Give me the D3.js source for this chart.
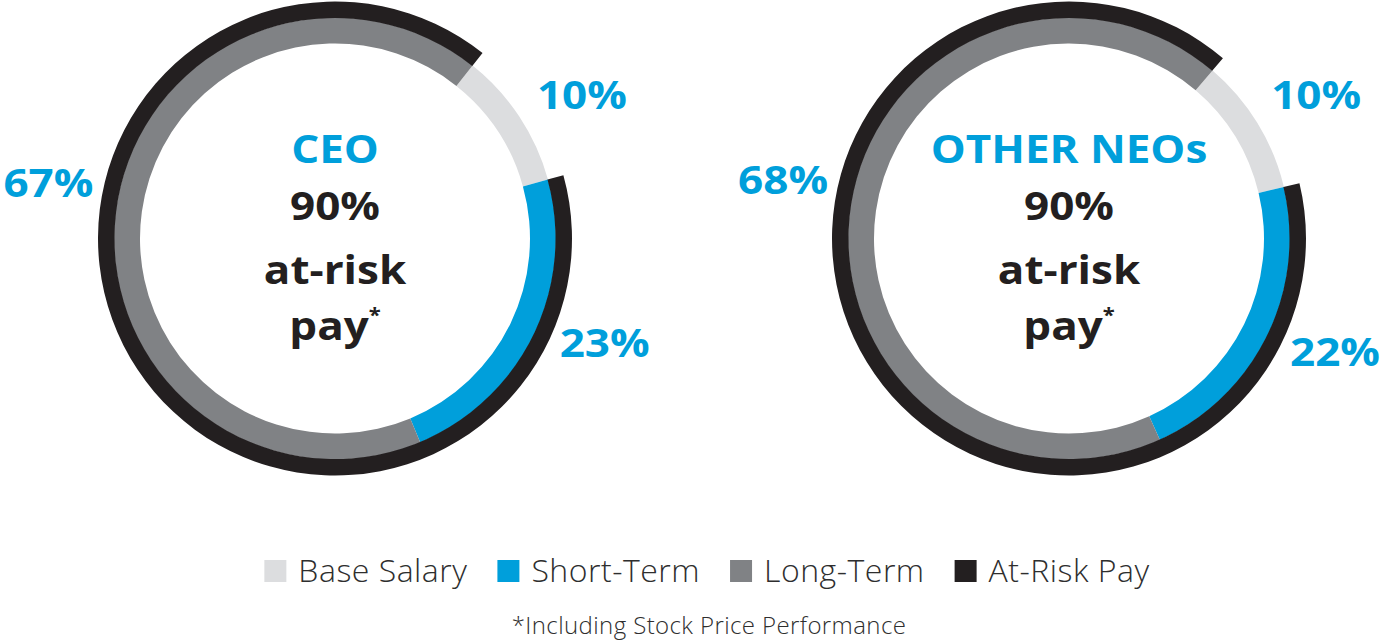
<!DOCTYPE html>
<html><head><meta charset="utf-8">
<script src="https://cdn.jsdelivr.net/npm/d3@7/dist/d3.min.js"></script>
<style>body{margin:0;background:#fff} svg{display:block}</style>
</head><body>
<svg id="chart" width="1381" height="642"></svg>
<script>
// ---- data ----
const categories = ["Base Salary", "Short-Term", "Long-Term"];
const groups = ["CEO", "OTHER NEOs"];
const ceoValues = [10, 23, 67];
const neoValues = [10, 22, 68];
const atRiskValues = [90, 90];
const centerLines = ["at-risk", "pay"];
const legendLabels = ["Base Salary", "Short-Term", "Long-Term", "At-Risk Pay"];
const footnote = "*Including Stock Price Performance";

// ---- style / layout ----
const colors = ["#dcdddf", "#009fdb", "#808285", "#231f20"];
const blue = "#009fdb", ink = "#231f20";
const layout = [
  {cx: 335, cy: 238.5, rot: 38.5, nudge: [3.2, -4.8, 3.1]},
  {cx: 1069, cy: 238.5, rot: 40.5, nudge: [1.3, -3.1, 3.6]}
];
const ringInner = 195, ringOuter = 221, riskOuter = 237;
const labelR = [286, 289, 292];
const boldFont = "'Open Sans', sans-serif";
const stretch = 1.1;
const svg = d3.select("#chart");
const rad = Math.PI / 180;

const seriesByGroup = [ceoValues, neoValues];

groups.forEach((g, gi) => {
  const L = layout[gi];
  const vals = seriesByGroup[gi];
  const pie = d3.pie().sort(null).value(d => d)
    .startAngle(L.rot * rad).endAngle(L.rot * rad + 2 * Math.PI);
  const arcs = pie(vals);
  const ring = d3.arc().innerRadius(ringInner).outerRadius(ringOuter);
  const gg = svg.append("g").attr("transform", `translate(${L.cx},${L.cy})`);

  gg.selectAll("path.seg").data(arcs).enter().append("path")
    .attr("class", "seg")
    .attr("d", ring)
    .attr("fill", (d, i) => colors[i]);

  // at-risk outer arc: starts at short-term and spans the at-risk share
  const riskStart = arcs[1].startAngle;
  const riskEnd = riskStart + 2 * Math.PI * atRiskValues[gi] / 100;
  gg.append("path")
    .attr("d", d3.arc().innerRadius(ringOuter - 0.5).outerRadius(riskOuter)
      .startAngle(riskStart).endAngle(riskEnd)())
    .attr("fill", colors[3]);

  // percentage labels
  gg.selectAll("text.pct").data(arcs).enter().append("text")
    .attr("class", "pct")
    .attr("transform", (d, i) => {
      const a = (d.startAngle + d.endAngle) / 2 + L.nudge[i] * rad;
      return `translate(${labelR[i] * Math.sin(a)},${-labelR[i] * Math.cos(a)}) scale(${stretch},1)`;
    })
    .attr("dy", "0.36em")
    .attr("text-anchor", "middle")
    .attr("font-family", boldFont).attr("font-weight", 700)
    .attr("font-size", 40).attr("fill", blue)
    .text(d => d.data + "%");

  // centre text
  const ct = gg.append("g").attr("text-anchor", "middle")
    .attr("transform", `scale(${stretch},1)`)
    .attr("font-family", boldFont).attr("font-weight", 700).attr("font-size", 40);
  ct.append("text").attr("y", 163 - L.cy).attr("fill", blue).text(g);
  ct.append("text").attr("y", 220 - L.cy).attr("fill", ink).text(atRiskValues[gi] + "%");
  ct.append("text").attr("y", 284 - L.cy).attr("fill", ink).text(centerLines[0]);
  const p = ct.append("text").attr("y", 340 - L.cy).attr("fill", ink);
  p.append("tspan").text(centerLines[1]);
  p.append("tspan").attr("font-size", 20).attr("dy", -18).text("*");
});

// ---- legend ----
const lg = svg.append("g").attr("font-family", "'Open Sans', sans-serif")
  .attr("font-weight", 300).attr("font-size", 32).attr("letter-spacing", 0.5)
  .attr("fill", "#2e2e2e");
const items = lg.selectAll("g").data(legendLabels).enter().append("g");
items.append("rect").attr("width", 22).attr("height", 22).attr("y", 560)
  .attr("fill", (d, i) => colors[i]);
items.append("text").attr("x", 34).attr("y", 582).text(d => d);
const widths = [];
items.each(function () {
  widths.push(d3.select(this).select("text").node().getComputedTextLength());
});
const gap = 30;
const total = d3.sum(widths) + widths.length * 34 + (widths.length - 1) * gap;
let x = 707 - total / 2;
items.attr("transform", (d, i) => {
  const t = `translate(${x},0)`;
  x += 34 + widths[i] + gap;
  return t;
});

svg.append("text").attr("x", 709).attr("y", 634).attr("text-anchor", "middle")
  .attr("font-family", "'Open Sans', sans-serif").attr("font-weight", 300)
  .attr("font-size", 24).attr("letter-spacing", 0.4)
  .attr("fill", "#2e2e2e").text(footnote);
</script>
</body></html>
